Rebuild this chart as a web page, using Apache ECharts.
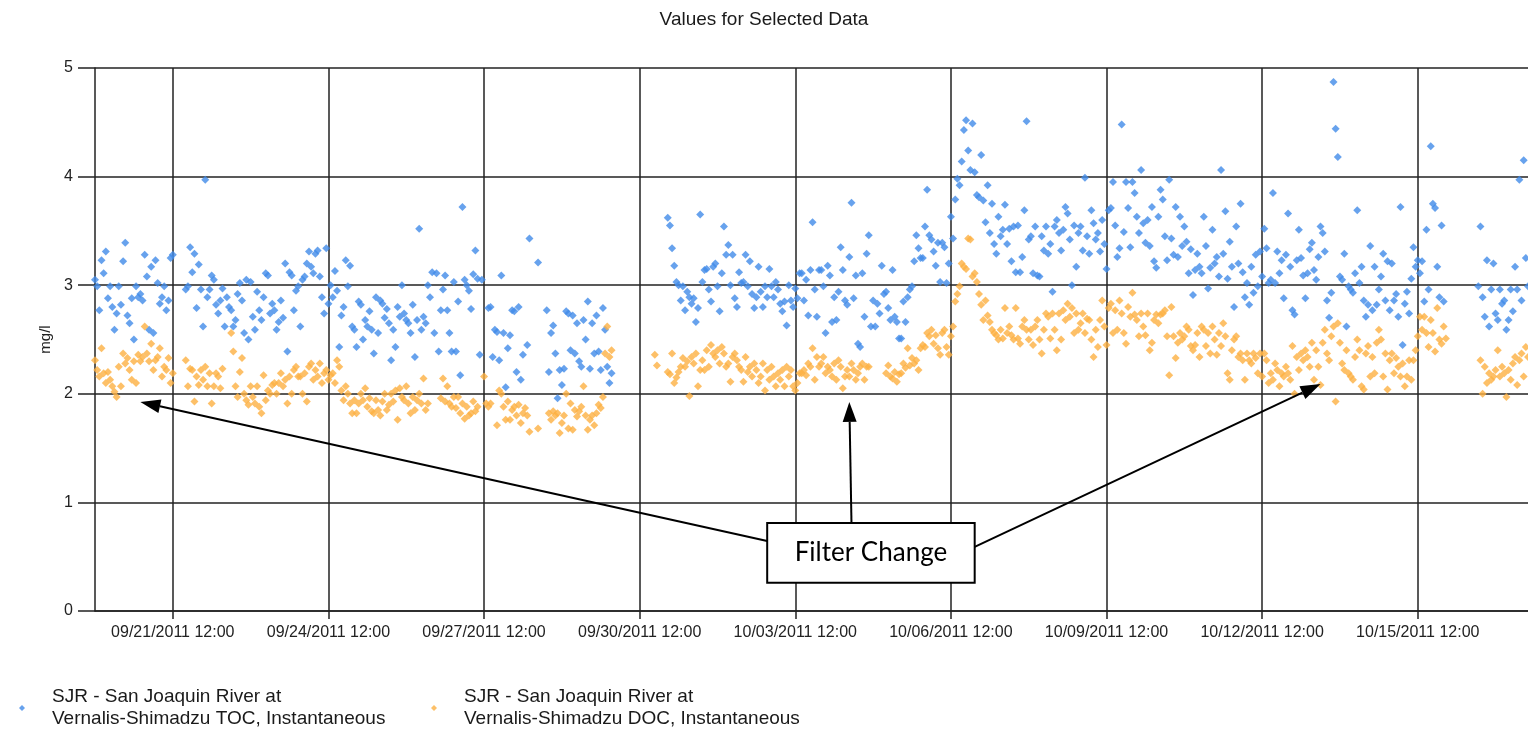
<!DOCTYPE html>
<html>
<head>
<meta charset="utf-8">
<title>Values for Selected Data</title>
<script src="https://cdn.jsdelivr.net/npm/echarts@6/dist/echarts.min.js"></script>
<style>
  html, body { margin: 0; padding: 0; background: #fff; }
  #chart { width: 1528px; height: 731px; }
</style>
</head>
<body>
<div id="chart"></div>
<script>
const _ = null;

// hourly readings, one row per day, first row = 09/20/2011 00:00
const tocName = "SJR - San Joaquin River at Vernalis-Shimadzu TOC, Instantaneous";
const tocDays = [
  [3.05, 2.99, 2.77, 3.23, 3.11, 3.31, 2.88, 2.99, 2.80, 2.59, 2.74, 2.99, 2.82, 3.22, 3.39, 2.72, 2.65, 2.88, 2.50, 2.99, 2.89, 2.92, 2.86, 3.28],
  [3.08, 2.59, 3.17, 2.56, 3.23, 3.02, 2.83, 2.89, 2.99, 2.77, 2.86, 3.25, 3.28, _, _, _, _, _, 2.96, 2.99, 3.35, 3.12, 3.29, 2.79],
  [3.19, 2.96, 2.62, 3.97, 2.89, 2.96, 3.09, 3.05, 2.82, 2.74, 2.86, 2.97, 2.62, 2.89, 2.80, 2.77, 2.62, 2.68, 2.92, 3.02, 2.86, 2.56, 3.05, 2.50],
  [3.03, 2.71, 2.59, 2.94, 2.77, 2.68, 2.89, 3.11, 3.09, 2.74, 2.83, 2.77, 2.59, 2.66, 2.86, 2.70, 3.20, 2.39, 3.12, 3.09, 2.77, 2.95, 2.99, 2.62],
  [3.05, 3.08, 3.20, 3.31, 3.17, 3.11, 3.29, 3.32, 3.08, 2.89, 2.74, 3.34, 2.83, 3.00, 2.89, 3.13, 2.95, 2.43, 2.72, 2.80, 3.23, 2.99, 3.18, 2.62],
  [2.59, 2.43, 2.85, 2.82, 2.50, 2.68, 2.62, 2.76, 2.59, 2.37, 2.89, 2.56, 2.86, 2.83, 2.70, 2.78, 2.65, 2.31, 2.59, 2.43, 2.80, 2.71, 3.00, 2.74],
  [2.68, 2.65, 2.56, 2.82, 2.34, 2.68, 3.52, 2.59, 2.71, 2.65, 3.00, 2.89, 3.12, 2.56, 3.11, 2.39, 2.77, 2.96, 3.09, 2.77, 2.56, 2.39, 3.03, 2.39],
  [2.85, 2.17, 3.72, 3.05, 3.00, 2.95, 2.78, 3.10, 3.32, 3.06, 2.36, 3.05, _, _, 2.79, 2.80, 2.34, 2.59, 2.57, 2.31, 3.09, 2.56, 2.06, 2.42],
  [2.54, 2.77, 2.76, 2.20, 2.80, 2.13, 2.36, _, 2.45, 3.43, _, _, _, 3.21, _, _, _, 2.77, 2.20, 2.56, 2.63, 2.37, 1.96, 2.22],
  [2.08, 2.23, 2.76, 2.74, 2.40, 2.72, 2.37, 2.65, 2.30, 2.25, 2.68, 2.50, 2.85, 2.23, 2.65, 2.37, 2.72, 2.39, 2.22, 2.79, 2.59, 2.25, 2.10, 2.19],
  [_, _, _, _, _, _, _, _, _, _, _, _, _, _, _, _, _, _, _, _, _, _, _, _],
  [_, 3.62, 3.55, 3.34, 3.18, 3.03, 3.00, 2.86, 2.99, 2.77, 2.94, 2.89, 2.83, 2.88, 2.66, 2.79, 3.65, 3.03, 3.14, 3.15, 2.96, 2.85, 3.17, 3.20],
  [2.99, 2.76, 3.11, 3.54, 3.28, 3.37, 3.00, 3.28, 2.88, 2.80, 3.12, 3.02, 3.03, 3.28, 2.99, 3.22, 2.92, 2.79, 2.89, 3.17, 2.94, 2.80, 2.99, 2.89],
  [3.15, 2.99, 2.89, 3.03, 2.96, 2.83, 2.76, 2.85, 2.63, 3.00, 2.86, 2.80, 2.97, 2.88, 3.11, 3.11, 2.86, 3.05, 2.72, 3.14, 3.58, 2.96, 2.71, 3.14],
  [3.14, 2.99, 2.56, 3.18, 3.09, 2.66, 2.89, 2.68, 2.94, 3.35, 3.14, 2.86, 2.82, 3.26, 3.76, 2.88, 3.09, 2.46, 2.43, 3.11, 2.71, 3.29, 3.46, 2.62],
  [2.86, 2.62, 2.83, 2.74, 3.18, 2.92, 2.94, 2.79, 2.68, 3.14, 2.71, 2.66, 2.51, 2.51, 2.85, 2.66, 2.89, 2.96, 2.99, 3.22, 3.46, 3.34, 3.25, 3.25],
  [3.54, 3.88, 3.46, 3.42, 3.31, 3.18, 3.39, 3.03, 3.39, 3.35, 3.02, 3.20, 3.63, 3.43, 3.79, 3.98, 3.92, 4.14, 4.43, 4.52, 4.24, 4.06, 4.49, 4.04],
  [3.83, 3.81, 4.20, 3.78, 3.58, 3.92, 3.48, 3.75, 3.38, 3.29, 3.63, 3.45, 3.51, 3.74, 3.38, 3.52, 3.22, 3.54, 3.12, 3.55, 3.12, 3.26, 3.69, 4.51],
  [3.42, 3.45, 3.11, 3.54, 3.09, 3.08, 3.45, 3.32, 3.54, 3.29, 3.38, 2.94, 3.54, 3.60, 3.48, 3.32, 3.51, 3.72, 3.66, 3.42, 3.00, 3.55, 3.17, 3.48],
  [3.54, 3.32, 3.99, 3.45, 3.29, 3.69, 3.57, 3.42, 3.48, 3.31, 3.60, 3.38, 3.15, 3.69, 3.71, 3.95, 3.55, 3.26, 3.34, 4.48, 3.49, 3.95, 3.71, 3.35],
  [3.95, 3.85, 3.63, 3.48, 4.06, 3.57, 3.39, 3.60, 3.36, 3.72, 3.22, 3.16, 3.63, 3.88, 3.79, 3.45, 3.23, 3.97, 3.43, 3.28, 3.72, 3.26, 3.63, 3.36],
  [3.54, 3.40, 3.11, 3.33, 2.91, 3.14, 3.29, 3.17, 3.11, 3.63, 3.36, 2.97, 3.16, 3.51, 3.20, 3.26, 3.08, 4.06, 3.29, 3.68, 3.06, 3.40, 3.17, 2.80],
  [3.54, 3.20, 3.75, 3.12, 2.89, 3.02, 2.82, 3.17, 2.93, 3.28, 2.99, 3.31, 3.08, 3.52, 3.34, 3.02, 3.05, 3.85, 3.02, 3.31, 3.11, 3.23, 2.88, 3.28],
  [3.66, 3.17, 2.77, 2.73, 3.23, 3.51, 3.25, 3.09, 2.88, 3.11, 3.33, 3.39, 3.14, 3.05, 3.26, 3.54, 3.48, 3.31, 2.86, 2.70, 2.93, 4.87, 4.44, 4.18],
  [3.08, 3.05, 3.29, 2.62, 2.99, 2.96, 2.93, 3.11, 3.69, 3.02, 3.17, 2.86, 2.71, 2.82, 3.36, 2.77, 3.17, 2.82, 2.96, 3.08, 3.29, 2.86, 3.22, 2.77],
  [3.20, 2.86, 2.92, 2.71, 3.72, 2.45, 2.83, 2.94, 2.74, 3.06, 3.35, 3.17, 3.23, 3.11, 3.22, 2.85, 3.51, 2.96, 4.28, 3.75, 3.71, 3.17, 2.89, 3.55],
  [2.85, _, _, _, _, _, _, _, _, _, _, _, _, _, _, _, 2.99, 3.54, 2.89, 2.71, 3.23, 2.62, 2.96, 3.20],
  [2.74, 2.68, 2.96, 2.83, 2.86, 2.59, 2.68, 2.96, 2.76, 3.17, 2.96, 3.97, 2.86, 4.15, 3.25, 2.99]
];

const docName = "SJR - San Joaquin River at Vernalis-Shimadzu DOC, Instantaneous";
const docDays = [
  [2.31, 2.22, 2.16, 2.42, 2.19, 2.10, 2.20, 2.13, 2.07, 2.02, 1.97, 2.25, 2.07, 2.37, 2.28, 2.33, 2.22, 2.13, 2.30, 2.10, 2.36, 2.30, 2.34, 2.62],
  [2.37, 2.30, 2.46, 2.22, 2.31, 2.34, 2.42, 2.16, 2.25, 2.22, 2.33, 2.10, 2.19, _, _, _, _, _, 2.31, 2.07, 2.23, 2.22, 1.93, 2.16],
  [2.08, 2.22, 2.13, 2.25, 2.07, 2.19, 1.91, 2.07, 2.19, 2.16, 2.05, 2.23, _, _, _, 2.56, 2.39, 2.07, 1.97, 2.20, 2.33, 2.00, 1.94, 1.90],
  [2.07, 1.97, 1.91, 2.07, 1.88, 1.82, 2.17, 1.94, 2.03, 2.00, 2.08, 2.10, 2.00, 2.10, 2.19, 2.07, 2.13, 1.91, 2.16, 2.00, 2.22, 2.25, 2.16, 2.16],
  [2.00, 2.19, 1.93, 2.25, 2.28, 2.13, 2.22, 2.16, 2.28, 2.10, 2.19, 2.22, 2.13, 2.17, 2.19, 2.10, 2.31, 2.25, 2.03, 1.94, 2.07, 2.00, 1.91, 1.82],
  [1.94, 1.82, 1.91, 2.00, 1.94, 2.05, 1.88, 1.96, 1.84, 1.82, 1.94, 1.85, 1.80, 1.93, 2.00, 1.85, 1.90, 2.00, 1.93, 2.03, 1.76, 2.05, 1.97, 1.94],
  [2.07, 1.91, 1.82, 1.97, 1.85, 1.94, 2.00, 1.91, 2.14, 1.85, 1.91, _, _, _, _, _, 1.96, 2.14, 1.93, 2.07, 1.91, 1.88, 1.97, 1.87],
  [1.97, 1.82, 1.91, 1.77, 1.88, 1.80, 1.82, 1.93, 1.84, 1.88, _, _, 2.16, 1.91, 1.88, 1.91, _, _, 1.71, 2.03, 2.00, 1.88, 1.76, 1.93],
  [1.76, 1.85, 1.88, 1.80, 1.90, 1.73, 1.82, 1.87, 1.80, 1.65, _, _, _, 1.68, _, _, _, _, 1.82, 1.76, 1.84, 1.80, 1.82, 1.64],
  [1.73, 1.80, 2.00, 1.68, 1.91, 1.67, 1.85, 1.79, 1.84, 1.88, 2.07, 1.80, 1.67, 1.76, 1.80, 1.71, 1.82, 1.90, 1.87, 1.97, 2.37, 2.62, 2.34, 2.40],
  [_, _, _, _, _, _, _, _, _, _, _, _, _, _, _, _, _, _, _, 2.36, 2.26, _, _, _],
  [_, 2.20, 2.18, 2.37, 2.10, 2.15, 2.20, 2.25, 2.33, 2.25, 2.30, 1.98, 2.34, 2.28, 2.37, 2.07, 2.22, 2.31, 2.22, 2.40, 2.25, 2.45, 2.37, 2.34],
  [2.40, 2.28, 2.43, 2.37, 2.25, 2.28, 2.11, 2.34, 2.37, 2.31, 2.25, 2.22, 2.11, 2.34, 2.20, 2.25, 2.16, 2.28, 2.22, 2.10, 2.16, 2.28, 2.03, 2.22],
  [2.13, 2.25, 2.16, 2.07, 2.19, 2.13, 2.22, 2.07, 2.25, 2.16, 2.22, 2.07, 2.03, 2.10, 2.19, 2.19, 2.22, 2.17, 2.28, 2.25, 2.42, 2.13, 2.34, 2.25],
  [2.28, 2.34, 2.19, 2.25, 2.22, 2.16, 2.28, 2.13, 2.31, 2.25, 2.05, 2.16, 2.22, 2.16, 2.28, 2.22, 2.13, 2.19, 2.25, 2.28, 2.13, 2.25, 2.25, _],
  [_, _, _, _, _, _, 2.19, 2.26, 2.16, 2.14, 2.20, 2.11, 2.18, 2.19, 2.28, 2.24, 2.42, 2.26, 2.33, 2.28, 2.31, 2.22, 2.42, 2.45],
  [2.43, 2.56, 2.53, 2.59, 2.46, 2.54, 2.42, 2.36, 2.56, 2.59, 2.43, 2.36, 2.53, 2.62, 2.85, 2.92, 2.99, 3.20, 3.17, 3.15, 3.43, 3.42, 3.08, 3.11],
  [3.03, 2.92, 2.82, 2.68, 2.86, 2.72, 2.66, 2.59, 2.56, 2.54, 2.50, 2.59, 2.51, 2.79, 2.56, 2.62, 2.54, 2.50, 2.79, 2.51, 2.46, 2.62, 2.68, 2.59],
  [2.50, 2.59, 2.45, 2.62, 2.68, 2.50, 2.37, 2.59, 2.74, 2.71, 2.51, 2.74, 2.59, 2.40, 2.74, 2.50, 2.77, 2.68, 2.83, 2.71, 2.79, 2.56, 2.74, 2.59],
  [2.65, 2.74, 2.56, 2.69, 2.68, 2.50, 2.34, 2.59, 2.43, 2.68, 2.86, 2.62, 2.45, 2.79, 2.83, 2.56, 2.77, 2.59, 2.86, 2.74, 2.56, 2.46, 2.80, 2.71],
  [2.93, 2.73, 2.68, 2.53, 2.74, 2.62, 2.54, 2.74, 2.40, 2.47, 2.68, 2.73, 2.65, 2.73, 2.74, 2.77, 2.53, 2.17, 2.80, 2.53, 2.33, 2.47, 2.56, 2.50],
  [2.53, 2.62, 2.59, 2.44, 2.40, 2.45, 2.56, 2.34, 2.62, 2.59, 2.44, 2.56, 2.37, 2.62, 2.50, 2.36, 2.56, 2.44, 2.65, 2.53, 2.19, 2.13, 2.40, 2.50],
  [2.53, 2.34, 2.37, 2.31, 2.13, 2.37, 2.31, 2.28, 2.37, 2.33, 2.19, 2.37, 2.16, 2.37, 2.31, 2.10, 2.19, 2.13, 2.28, 2.22, 2.07, 2.19, 2.16, 2.25],
  [2.19, 2.13, 2.44, 2.00, 2.34, 2.22, 2.37, 2.31, 2.40, 2.34, 2.25, 2.47, 2.13, 2.40, 2.25, 2.08, 2.47, 2.59, 2.37, 2.31, 2.53, 2.62, 1.93, 2.65],
  [2.47, 2.28, 2.22, 2.40, 2.19, 2.16, 2.13, 2.34, 2.50, 2.40, 2.07, 2.04, 2.37, 2.44, 2.16, 2.34, 2.19, 2.47, 2.59, 2.50, 2.16, 2.37, 2.04, 2.31],
  [2.37, 2.19, 2.33, 2.25, 2.16, 2.28, 2.07, 2.16, 2.31, 2.13, 2.31, 2.40, 2.53, 2.71, 2.59, 2.71, 2.56, 2.43, 2.68, 2.56, 2.39, 2.79, 2.50, 2.46],
  [2.62, 2.51, _, _, _, _, _, _, _, _, _, _, _, _, _, _, _, 2.31, 2.00, 2.25, 2.10, 2.19, 2.13, 2.16],
  [2.22, 2.40, 2.16, 2.25, 2.19, 1.97, 2.22, 2.13, 2.28, 2.34, 2.08, 2.31, 2.37, 2.16, 2.43, 2.34]
];

// hourly category axis from 09/20/2011 00:00, labelled every 3 days at 12:00
const startTime = Date.UTC(2011, 8, 20, 0, 0);
const hourCount = 664;
const labelEvery = 72;
const labelFirst = 36;

// "Filter Change" note, in axis units (hour index, mg/l)
const noteBox = [[311, 0.81], [407, 0.26]];
const arrowTails = [[311, 0.645], [350, 0.81], [407, 0.59]];
const arrowTips = [[21.3, 1.925], [348.7, 1.925], [567.3, 2.09]];

function pad(n) { return n < 10 ? "0" + n : "" + n; }

const categories = [];
for (let i = 0; i < hourCount; i++) {
  const d = new Date(startTime + i * 3600000);
  categories.push(pad(d.getUTCMonth() + 1) + "/" + pad(d.getUTCDate()) + "/" +
    d.getUTCFullYear() + " " + pad(d.getUTCHours()) + ":00");
}

function toPoints(days) {
  const pts = [];
  days.forEach((row, d) => {
    row.forEach((v, h) => {
      if (v !== null) pts.push([d * 24 + h, v]);
    });
  });
  return pts;
}

const showTick = (index) => index % labelEvery === labelFirst;
const fontFamily = "Liberation Sans, Arial, sans-serif";
const gridLine = { color: "#222", width: 1.5 };

const chart = echarts.init(document.getElementById("chart"));

const legendBase = {
  top: 681,
  icon: "diamond",
  itemWidth: 6,
  itemHeight: 6,
  selectedMode: false,
  formatter: (name) => name.replace(" at ", " at\n"),
  textStyle: { fontFamily: fontFamily, fontSize: 19, lineHeight: 22, color: "#1a1a1a", padding: [0, 0, 0, 22] }
};

chart.setOption({
  animation: false,
  backgroundColor: "#fff",
  title: {
    text: "Values for Selected Data",
    left: "center",
    top: 5,
    textStyle: { fontFamily: fontFamily, fontSize: 19, fontWeight: "normal", color: "#1a1a1a" }
  },
  legend: [
    Object.assign({}, legendBase, { data: [tocName], left: 14 }),
    Object.assign({}, legendBase, { data: [docName], left: 426 })
  ],
  grid: { left: 95, right: 0, top: 68, bottom: 120, containLabel: false },
  xAxis: {
    type: "category",
    data: categories,
    boundaryGap: false,
    axisLine: { lineStyle: gridLine },
    axisTick: { interval: showTick, length: 8, lineStyle: gridLine },
    axisLabel: { interval: showTick, fontFamily: fontFamily, fontSize: 16, color: "#222", margin: 14 },
    splitLine: { show: true, interval: showTick, lineStyle: gridLine }
  },
  yAxis: {
    type: "value",
    min: 0,
    max: 5,
    interval: 1,
    name: "mg/l",
    nameLocation: "middle",
    nameGap: 40,
    nameTextStyle: { fontFamily: fontFamily, fontSize: 15, color: "#222" },
    axisLine: { show: true, lineStyle: gridLine },
    axisTick: { show: true, length: 17, lineStyle: gridLine },
    axisLabel: { fontFamily: fontFamily, fontSize: 16, color: "#222", margin: 22 },
    splitLine: { show: true, lineStyle: gridLine }
  },
  series: [
    {
      name: tocName,
      type: "scatter",
      symbol: "diamond",
      symbolSize: 8,
      itemStyle: { color: "#418be8" },
      emphasis: { disabled: true },
      data: toPoints(tocDays)
    },
    {
      name: docName,
      type: "scatter",
      symbol: "diamond",
      symbolSize: 8,
      itemStyle: { color: "#fdb042" },
      emphasis: { disabled: true },
      data: toPoints(docDays)
    }
  ]
});

// annotation: box with arrows pointing at the filter changes
function px(p) { return chart.convertToPixel({ gridIndex: 0 }, p); }

const graphics = [];
arrowTails.forEach((tail, i) => {
  const s = px(tail);
  const t = px(arrowTips[i]);
  const dx = t[0] - s[0], dy = t[1] - s[1];
  const len = Math.sqrt(dx * dx + dy * dy);
  const ux = dx / len, uy = dy / len;
  const headLen = 20, headHalf = 7;
  const bx = t[0] - ux * headLen, by = t[1] - uy * headLen;
  graphics.push({
    type: "line", z: 100,
    shape: { x1: s[0], y1: s[1], x2: bx, y2: by },
    style: { stroke: "#000", lineWidth: 2 }
  });
  graphics.push({
    type: "polygon", z: 100,
    shape: { points: [[t[0], t[1]], [bx - uy * headHalf, by + ux * headHalf], [bx + uy * headHalf, by - ux * headHalf]] },
    style: { fill: "#000" }
  });
});
const b0 = px(noteBox[0]);
const b1 = px(noteBox[1]);
graphics.push({
  type: "rect", z: 101,
  shape: { x: b0[0], y: b0[1], width: b1[0] - b0[0], height: b1[1] - b0[1] },
  style: { fill: "#fff", stroke: "#000", lineWidth: 2 }
});
graphics.push({
  type: "text", z: 102,
  style: {
    text: "Filter Change",
    x: (b0[0] + b1[0]) / 2,
    y: (b0[1] + b1[1]) / 2,
    align: "center",
    verticalAlign: "middle",
    fontFamily: "Lato, Open Sans, sans-serif",
    fontSize: 26,
    fill: "#000"
  }
});
chart.setOption({ graphic: graphics });
</script>
</body>
</html>
